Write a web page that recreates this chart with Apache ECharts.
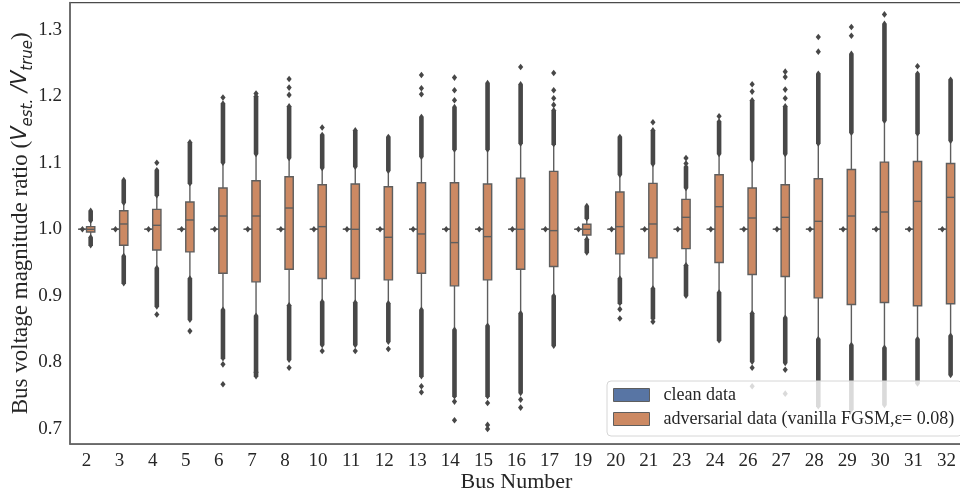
<!DOCTYPE html>
<html><head><meta charset="utf-8">
<script src="https://cdn.jsdelivr.net/npm/echarts@6/dist/echarts.min.js"></script>
<style>html,body{margin:0;padding:0;background:#fff}#c{width:960px;height:499px}</style>
</head><body><div id="c"></div>
<script>
// ---------- data ----------
const categories = ['2','3','4','5','6','7','8','10','11','12','13','14','15','16','17','19','20','21','23','24','26','27','28','29','30','31','32'];

// adversarial boxes: [whisker low, q1, median, q3, whisker high]
const advBoxes = [
  [0.988, 0.996, 1.000, 1.004, 1.012],
  [0.960, 0.976, 1.008, 1.028, 1.040],
  [0.942, 0.969, 1.006, 1.030, 1.051],
  [0.926, 0.966, 1.014, 1.041, 1.069],
  [0.879, 0.934, 1.020, 1.062, 1.100],
  [0.870, 0.921, 1.020, 1.073, 1.113],
  [0.886, 0.940, 1.032, 1.079, 1.107],
  [0.891, 0.926, 1.004, 1.067, 1.092],
  [0.890, 0.926, 1.000, 1.068, 1.094],
  [0.889, 0.924, 0.988, 1.064, 1.088],
  [0.879, 0.934, 0.993, 1.070, 1.109],
  [0.849, 0.915, 0.980, 1.070, 1.120],
  [0.855, 0.924, 0.989, 1.068, 1.120],
  [0.874, 0.940, 1.000, 1.077, 1.129],
  [0.900, 0.944, 0.998, 1.087, 1.128],
  [0.985, 0.9915, 1.000, 1.0075, 1.0165],
  [0.926, 0.963, 1.004, 1.056, 1.082],
  [0.911, 0.957, 1.008, 1.069, 1.098],
  [0.946, 0.971, 1.018, 1.045, 1.062],
  [0.905, 0.950, 1.034, 1.082, 1.113],
  [0.874, 0.932, 1.017, 1.062, 1.104],
  [0.867, 0.929, 1.018, 1.067, 1.113],
  [0.835, 0.897, 1.012, 1.076, 1.129],
  [0.826, 0.887, 1.020, 1.090, 1.145],
  [0.822, 0.890, 1.026, 1.101, 1.163],
  [0.835, 0.885, 1.042, 1.102, 1.144],
  [0.840, 0.888, 1.048, 1.099, 1.133]
];

// dense runs of outliers above the upper whisker: [from, to]
const advUpperRuns = [
  [1.013, 1.028],[1.040, 1.074],[1.051, 1.089],[1.069, 1.131],[1.100, 1.189],
  [1.113, 1.200],[1.107, 1.185],[1.092, 1.142],[1.094, 1.149],[1.088, 1.139],
  [1.109, 1.169],[1.120, 1.184],[1.120, 1.220],[1.129, 1.218],[1.128, 1.179],
  [1.0165, 1.035],[1.082, 1.139],[1.098, 1.149],[1.062, 1.094],[1.113, 1.162],
  [1.104, 1.194],[1.113, 1.185],[1.129, 1.234],[1.145, 1.264],[1.163, 1.309],
  [1.144, 1.234],[1.133, 1.225]
];

// dense runs of outliers below the lower whisker: [to, from]
const advLowerRuns = [
  [0.976, 0.988],[0.919, 0.960],[0.884, 0.942],[0.864, 0.926],[0.806, 0.879],
  [0.779, 0.870],[0.804, 0.886],[0.826, 0.891],[0.826, 0.890],[0.831, 0.889],
  [0.779, 0.879],[0.749, 0.849],[0.749, 0.855],[0.754, 0.874],[0.825, 0.900],
  [0.965, 0.985],[0.889, 0.926],[0.866, 0.911],[0.900, 0.946],[0.833, 0.905],
  [0.801, 0.874],[0.799, 0.867],[0.734, 0.835],[0.729, 0.826],[0.736, 0.822],
  [0.768, 0.835],[0.781, 0.840]
];

// isolated outliers per category
const advIsolated = [
  [], [], [1.100, 0.872], [0.847], [1.198, 0.797, 0.767],
  [1.204, 0.785], [1.202, 1.213, 1.226, 0.792], [1.153, 0.817], [0.817], [0.820],
  [1.203, 1.212, 1.232, 0.764, 0.755], [1.194, 1.209, 1.228, 0.741, 0.713], [0.739, 0.706, 0.700], [1.244, 0.744, 0.732], [1.187, 1.197, 1.209, 1.235],
  [], [0.880, 0.866], [1.161, 0.861], [1.099, 1.107], [1.170],
  [1.207, 1.218, 0.792, 0.764], [1.197, 1.210, 1.229, 1.237, 0.789, 0.753], [1.267, 1.289], [1.291, 1.304], [1.323],
  [1.245], []
];

// clean boxes (collapsed at 1.0) and their outliers
const cleanBoxes = [
  [1,1,1,1,1],[1,1,1,1,1],[1,1,1,1,1],[1,1,1,1,1],[1,1,1,1,1],[1,1,1,1,1],[1,1,1,1,1],
  [1,1,1,1,1],[1,1,1,1,1],[1,1,1,1,1],[1,1,1,1,1],[1,1,1,1,1],[1,1,1,1,1],[1,1,1,1,1],
  [1,1,1,1,1],[1,1,1,1,1],[1,1,1,1,1],[1,1,1,1,1],[1,1,1,1,1],[1,1,1,1,1],[1,1,1,1,1],
  [1,1,1,1,1],[1,1,1,1,1],[1,1,1,1,1],[1,1,1,1,1],[1,1,1,1,1],[1,1,1,1,1]
];
const cleanOutliers = [1,1,1,1,1,1,1,1,1,1,1,1,1,1,1,1,1,1,1,1,1,1,1,1,1,1,1];

const yMin = 0.6773, yMax = 1.3409;

// ---------- styling ----------
const FILL_ADV = '#cc8963', FILL_CLEAN = '#5875a4';
const EDGE = '#5e5e5e', OUT = '#474747', TXT = '#262626';
const HUE_OFF = 0.125, BOX_W = 0.25;
const SERIF = 'Liberation Serif';
const NAME_CLEAN = 'clean data';
const NAME_ADV = 'adversarial data (vanilla FGSM,\u03b5= 0.08)';

function boxRender(side, fill) {
  return function (params, api) {
    const i = api.value(0);
    const band = api.size([1, 0])[0];
    const w = BOX_W * band;
    const pL = api.coord([i, api.value(1)]);
    const p1 = api.coord([i, api.value(2)]);
    const pm = api.coord([i, api.value(3)]);
    const p3 = api.coord([i, api.value(4)]);
    const pH = api.coord([i, api.value(5)]);
    const cx = pm[0] + side * HUE_OFF * band;
    const ls = { stroke: EDGE, lineWidth: 1.4 };
    return {
      type: 'group',
      children: [
        { type: 'line', shape: { x1: cx, y1: p1[1], x2: cx, y2: pL[1] }, style: ls },
        { type: 'line', shape: { x1: cx, y1: p3[1], x2: cx, y2: pH[1] }, style: ls },
        { type: 'rect', shape: { x: cx - w / 2, y: p3[1], width: w, height: Math.max(0, p1[1] - p3[1]) },
          style: { fill: fill, stroke: EDGE, lineWidth: 1.4 } },
        { type: 'line', shape: { x1: cx - w / 2, y1: pm[1], x2: cx + w / 2, y2: pm[1] }, style: ls }
      ]
    };
  };
}

function runRender(params, api) {
  const i = api.value(0);
  const band = api.size([1, 0])[0];
  const side = api.value(3);
  const a = api.coord([i, api.value(1)]);
  const b = api.coord([i, api.value(2)]);
  const cx = a[0] + side * HUE_OFF * band;
  const top = Math.min(a[1], b[1]), bot = Math.max(a[1], b[1]);
  const hw = 2.3, tip = 3.2;
  return {
    type: 'polygon',
    shape: { points: [[cx, top - tip], [cx + hw, top], [cx + hw, bot], [cx, bot + tip], [cx - hw, bot], [cx - hw, top]] },
    style: { fill: OUT }
  };
}

function dotRender(params, api) {
  const i = api.value(0);
  const band = api.size([1, 0])[0];
  const side = api.value(2);
  const p = api.coord([i, api.value(1)]);
  const cx = p[0] + side * HUE_OFF * band;
  const hw = 2.6, hh = 3.3;
  return {
    type: 'polygon',
    shape: { points: [[cx, p[1] - hh], [cx + hw, p[1]], [cx, p[1] + hh], [cx - hw, p[1]]] },
    style: { fill: OUT }
  };
}

const advData = advBoxes.map((b, i) => [i].concat(b));
const cleanData = cleanBoxes.map((b, i) => [i].concat(b));
const runData = [];
advUpperRuns.forEach((r, i) => runData.push([i, r[0], r[1], 1]));
advLowerRuns.forEach((r, i) => runData.push([i, r[0], r[1], 1]));
const dotData = [];
advIsolated.forEach((arr, i) => arr.forEach(v => dotData.push([i, v, 1])));
cleanOutliers.forEach((v, i) => dotData.push([i, v, -1]));

const chart = echarts.init(document.getElementById('c'), null, { renderer: 'canvas' });
chart.setOption({
  animation: false,
  backgroundColor: '#fff',
  grid: { left: 70, right: -3, top: 2.5, bottom: 55, show: true, borderColor: '#4a4a4a', borderWidth: 1.25,
          containLabel: false, outerBoundsMode: 'none' },
  legend: {
    orient: 'vertical', left: 607, top: 381,
    padding: [5, 8, 8, 6], itemGap: 6, itemWidth: 36, itemHeight: 13,
    backgroundColor: 'rgba(255,255,255,0.8)', borderColor: '#d6d6d6', borderWidth: 1, borderRadius: 4,
    textStyle: { fontFamily: SERIF, fontSize: 18, color: TXT, lineHeight: 18, padding: [0, 0, 0, 9] },
    data: [
      { name: NAME_CLEAN, icon: 'rect', itemStyle: { color: FILL_CLEAN, borderColor: EDGE, borderWidth: 1 } },
      { name: NAME_ADV, icon: 'rect', itemStyle: { color: FILL_ADV, borderColor: EDGE, borderWidth: 1 } }
    ]
  },
  xAxis: {
    type: 'category', data: categories, boundaryGap: true,
    axisLine: { show: true, lineStyle: { color: '#666', width: 1.5 } },
    axisTick: { show: false }, splitLine: { show: false },
    axisLabel: { fontFamily: SERIF, fontSize: 19, color: TXT, margin: 8, interval: 0 },
    name: 'Bus Number', nameLocation: 'middle', nameGap: 27, nameMoveOverlap: false,
    nameTextStyle: { fontFamily: SERIF, fontSize: 22, color: TXT }
  },
  yAxis: {
    type: 'value', min: yMin, max: yMax,
    axisLine: { show: true, lineStyle: { color: '#666', width: 1.5 } },
    axisTick: { show: false }, splitLine: { show: false },
    axisLabel: {
      fontFamily: SERIF, fontSize: 19, color: TXT, margin: 8,
      formatter: function (v) { const r = Math.round(v * 10) / 10; return Math.abs(v - r) < 1e-6 ? r.toFixed(1) : ''; }
    },
    name: '{t|Bus voltage magnitude ratio (}{m|V}{s|est.}{m| /V}{s|true}{t|)}',
    nameLocation: 'middle', nameGap: 34, nameRotate: 90, nameMoveOverlap: false,
    nameTextStyle: {
      color: TXT, lineHeight: 30,
      rich: {
        t: { fontFamily: SERIF, fontSize: 23, color: TXT, lineHeight: 30 },
        m: { fontFamily: 'DejaVu Sans', fontStyle: 'italic', fontSize: 21, color: TXT, lineHeight: 30 },
        s: { fontFamily: 'DejaVu Sans', fontStyle: 'italic', fontSize: 15, color: TXT, lineHeight: 16, verticalAlign: 'bottom' }
      }
    }
  },
  series: [
    { name: NAME_CLEAN, type: 'custom', renderItem: boxRender(-1, FILL_CLEAN), data: cleanData,
      encode: { x: 0, y: [1, 2, 3, 4, 5] }, itemStyle: { color: FILL_CLEAN }, z: 2 },
    { name: NAME_ADV, type: 'custom', renderItem: boxRender(1, FILL_ADV), data: advData,
      encode: { x: 0, y: [1, 2, 3, 4, 5] }, itemStyle: { color: FILL_ADV }, z: 2 },
    { name: 'outlier runs', type: 'custom', renderItem: runRender, data: runData,
      encode: { x: 0, y: [1, 2] }, z: 3 },
    { name: 'outliers', type: 'custom', renderItem: dotRender, data: dotData,
      encode: { x: 0, y: 1 }, z: 3 }
  ]
});
</script>
</body></html>
